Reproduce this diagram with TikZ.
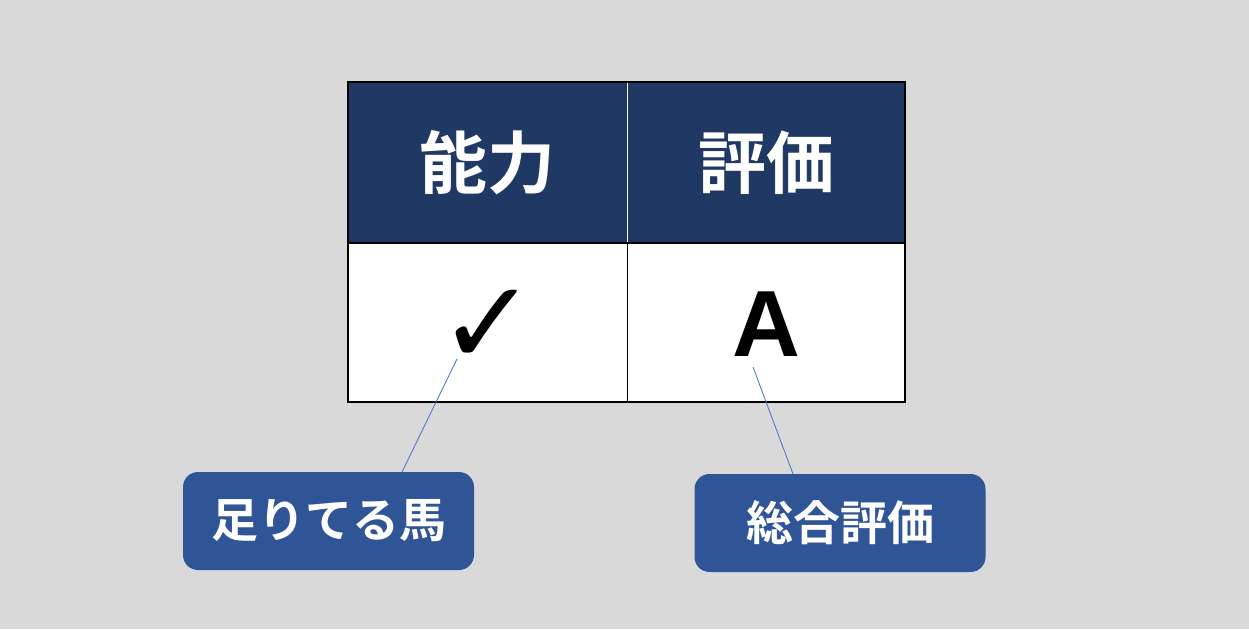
\documentclass[tikz,border=0pt]{standalone}
\usepackage{fontspec}
\setmainfont{Liberation Sans}
\newfontfamily\cjk{Noto Sans CJK JP}[BoldFont={Noto Sans CJK JP Bold}]
\newfontfamily\symf{DejaVu Sans}
\definecolor{bg}{HTML}{D9D9D9}
\definecolor{navy}{HTML}{203864}
\definecolor{callout}{HTML}{2F5597}
\definecolor{leader}{HTML}{4472C4}
\tikzset{
  cell/.style={inner sep=0pt, outer sep=0pt},
  headtxt/.style={text=white, font=\cjk\bfseries\fontsize{68}{68}\selectfont},
  callbox/.style={draw=none, fill=callout, rounded corners=15pt, minimum width=291pt, minimum height=98pt, inner sep=0pt, text=white, font=\cjk\bfseries\fontsize{47}{47}\selectfont},
  leaderline/.style={draw=leader, line width=0.8pt}
}
\begin{document}
\begin{tikzpicture}[x=1pt,y=-1pt]
\fill[bg] (0,0) rectangle (1249,629);
\useasboundingbox (0,0) rectangle (1249,629);
% table
\fill[navy] (348,82) rectangle (905,243);
\fill[white] (348,243) rectangle (905,402);
\draw[white, line width=1pt] (627,82) -- (627,243);
\draw[black, line width=1pt] (627,243) -- (627,402);
\draw[black, line width=2pt] (348,243) -- (905,243);
\draw[black, line width=2pt] (348,82) rectangle (905,402);
\node[cell, headtxt] (h1) at (487.5,162.5) {能力};
\node[cell, headtxt] (h2) at (766,162.5) {評価};
\node[cell, font=\symf\bfseries\fontsize{118}{118}\selectfont] (v1) at (488,327) {✓};
\node[cell, font=\bfseries\fontsize{94}{94}\selectfont] (v2) at (766,324) {A};
% callouts
\node[callbox] (b1) at (328.5,521) {足りてる馬};
\node[callbox] (b2) at (840,523) {総合評価};
\coordinate (s1) at (457,359);
\coordinate (e1) at (402,472);
\coordinate (s2) at (753,367);
\coordinate (e2) at (793,474);
\draw[leaderline] (s1) -- (e1);
\draw[leaderline] (s2) -- (e2);
\end{tikzpicture}
\end{document}
